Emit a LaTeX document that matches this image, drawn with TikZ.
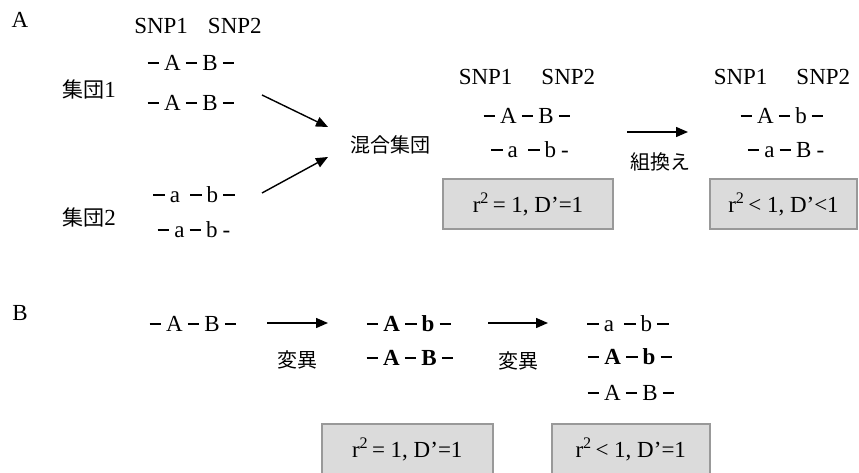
\documentclass[tikz,border=0pt]{standalone}
\usepackage{fontspec}
\setmainfont{Liberation Serif}
\newfontfamily\jp{Noto Sans CJK JP}
\usetikzlibrary{arrows.meta}
\newcommand\gp{\hspace{0.22em}}
\newcommand\dd{\rule[0.29em]{0.5em}{0.075em}}
\newcommand\bdd{\rule[0.28em]{0.5em}{0.1em}}
\begin{document}
\begin{tikzpicture}[x=1pt,y=-1pt,
  txt/.style={inner sep=0pt,font=\fontsize{23}{27}\selectfont},
  jtx/.style={inner sep=0pt,font=\fontsize{20}{24}\selectfont\jp},
  boldtx/.style={inner sep=0pt,font=\fontsize{23}{27}\selectfont\bfseries},
  valbox/.style={draw=black!40,line width=1.5pt,fill=black!14,inner sep=0pt,font=\fontsize{23}{27}\selectfont},
  arr/.style={line width=1.4pt,-{Triangle[length=12pt,width=10pt]}}]
\useasboundingbox (0,0) rectangle (859,473);
% ---------- A ----------
\node[txt] (labA) at (20,20) {A};
\node[txt] (snpA) at (198,26) {SNP1\hspace{20pt}SNP2};
\node[txt] (p1a) at (191,63) {\dd\gp A\gp\dd\gp B\gp\dd};
\node[txt] (g1) at (89,90) {{\fontsize{21}{24}\selectfont\jp 集団}1};
\node[txt] (p1b) at (191,103) {\dd\gp A\gp\dd\gp B\gp\dd};
\node[txt] (p2a) at (194,195) {\dd\gp a\gp\gp\dd\gp b\gp\dd};
\node[txt] (g2) at (89,217) {{\fontsize{21}{24}\selectfont\jp 集団}2};
\node[txt] (p2b) at (194,230) {\dd\gp a\gp\dd\gp b\gp -};
\node[jtx] (mix) at (390,145) {混合集団};
\coordinate (s1) at (262,95);
\coordinate (e1) at (328,127);
\coordinate (s2) at (262,193);
\coordinate (e2) at (328,157);
\draw[arr] (s1) -- (e1);
\draw[arr] (s2) -- (e2);
\node[txt] (snpM) at (527,77) {SNP1\hspace{29pt}SNP2};
\node[txt] (mA) at (527,116) {\dd\gp A\gp\dd\gp B\gp\dd};
\node[txt] (mB) at (530,150) {\dd\gp a\gp\gp\dd\gp b\gp -};
\node[valbox,minimum width=170pt,minimum height=50pt] (box1) at (528,204) {r\textsuperscript{2}\,= 1, D’=1};
\coordinate (ra) at (627,132);
\coordinate (rb) at (688,132);
\draw[arr] (ra) -- (rb);
\node[jtx] (rec) at (660,162) {組換え};
\node[txt] (snpR) at (782,77) {SNP1\hspace{29pt}SNP2};
\node[txt] (rA) at (782,116) {\dd\gp A\gp\dd\gp b\gp\dd};
\node[txt] (rB) at (786,150) {\dd\gp a\gp\dd\gp B\gp -};
\node[valbox,minimum width=147pt,minimum height=50pt] (box2) at (783.5,204) {r\textsuperscript{2}\,< 1, D’<1};
% ---------- B ----------
\node[txt] (labB) at (20,313) {B};
\node[txt] (b0) at (193,324) {\dd\gp A\gp\dd\gp B\gp\dd};
\coordinate (m1a) at (267,323);
\coordinate (m1b) at (328,323);
\draw[arr] (m1a) -- (m1b);
\node[jtx] (mut1) at (297,360) {変異};
\node[boldtx] (b1a) at (409,324) {\bdd\gp A\gp\bdd\gp b\gp\bdd};
\node[boldtx] (b1b) at (410,358) {\bdd\gp A\gp\bdd\gp B\gp\bdd};
\coordinate (m2a) at (488,323);
\coordinate (m2b) at (548,323);
\draw[arr] (m2a) -- (m2b);
\node[jtx] (mut2) at (518,361) {変異};
\node[txt] (b2a) at (628,324) {\dd\gp a\gp\gp\dd\gp b\gp\dd};
\node[boldtx] (b2b) at (630,357) {\bdd\gp A\gp\bdd\gp b\gp\bdd};
\node[txt] (b2c) at (631,393) {\dd\gp A\gp\dd\gp B\gp\dd};
\node[valbox,minimum width=171pt,minimum height=52pt,anchor=north west] (box3) at (321,423) {r\textsuperscript{2}\,= 1, D’=1};
\node[valbox,minimum width=158pt,minimum height=52pt,anchor=north west] (box4) at (551,423) {r\textsuperscript{2}\,< 1, D’=1};
\end{tikzpicture}
\end{document}
